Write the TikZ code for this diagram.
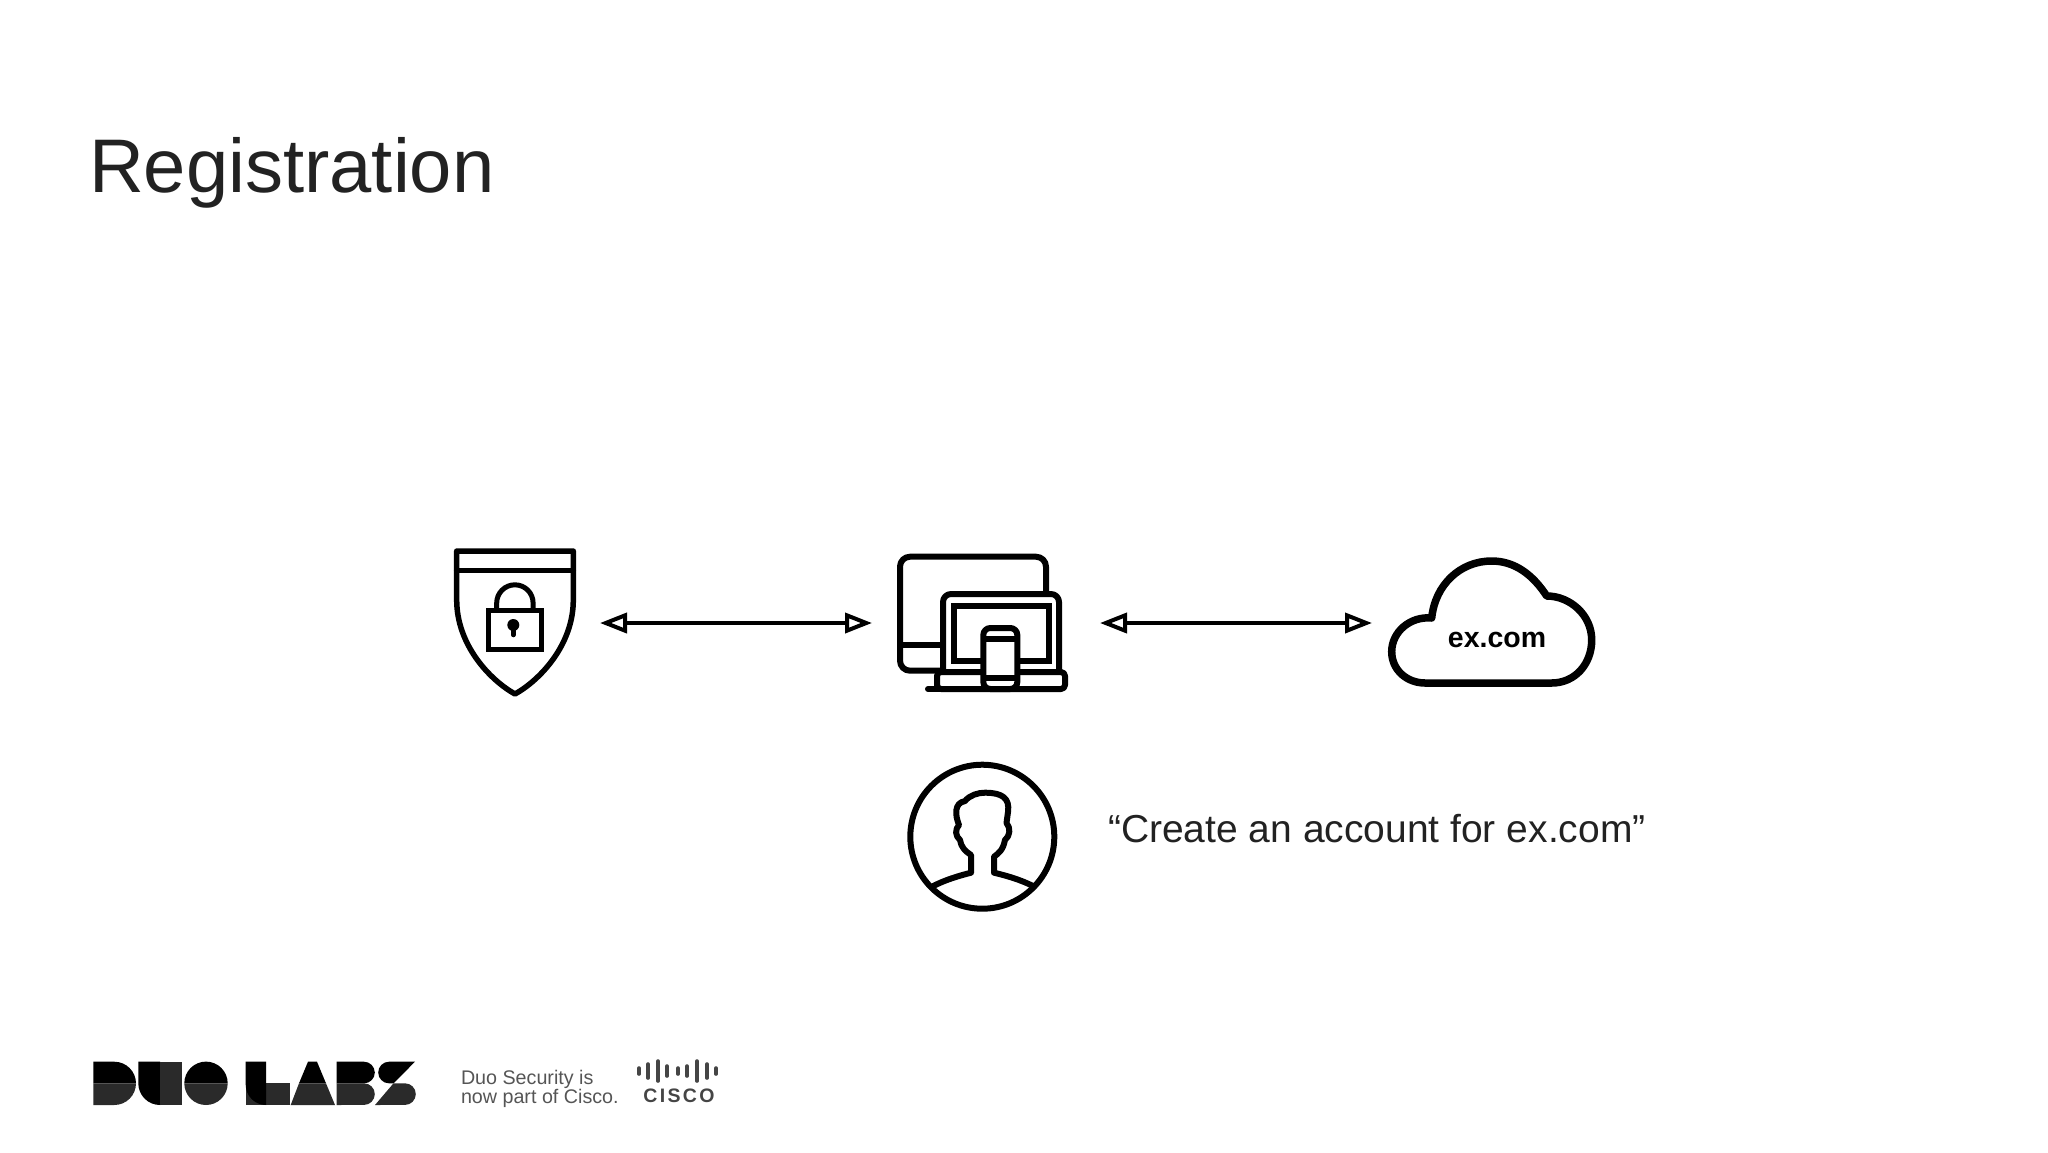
\documentclass[tikz,border=0pt]{standalone}
\usepackage{fontspec}
\setmainfont{Liberation Sans}
\newfontfamily\ciscofont[LetterSpace=12]{Liberation Sans}
\usetikzlibrary{arrows.meta}
\colorlet{ink}{black}
\definecolor{titlegray}{HTML}{222222}
\definecolor{labsgray}{HTML}{2A2A2A}
\definecolor{notegray}{HTML}{555555}
\definecolor{ciscogray}{HTML}{454545}
\def\labstop{\fill[black]}
\def\labsbot{\fill[labsgray]}
\tikzset{
	icon/.style={draw=ink,line width=6pt,line join=round,line cap=round},
	iconbox/.style={inner sep=0pt,outer sep=0pt,minimum height=40pt},
	link/.style={line width=4pt,<->},
	labl/.style={inner sep=0pt,outer sep=0pt,anchor=base west},
	ciscobar/.style={draw=ciscogray,line width=3.6pt,line cap=round},
	>={Triangle[open,length=27pt,width=20pt]},
	}
\begin{document}
\begin{tikzpicture}[x=1pt,y=-1pt]
\useasboundingbox (0,0) rectangle (2048,1152);
%TITOLO
\node[labl,text=titlegray,font=\fontsize{76}{80}\selectfont] (title) at (89,192) {Registration};
%NODI
\node[iconbox,minimum width=170pt] (shield) at (515,623) {};
\node[iconbox,minimum width=228pt] (devices) at (986,623) {};
\node[iconbox,minimum width=240pt] (cloud) at (1492,623) {};
%FRECCE
\draw[link] (shield) -- (devices);
\draw[link] (devices) -- (cloud);
%SCUDO
\draw[icon,line width=5.5pt] (456.7,551) -- (573.3,551) -- (573.3,600)
	.. controls (573.3,645) and (540,680) .. (515,694)
	.. controls (490,680) and (456.7,645) .. (456.7,600) -- cycle;
\draw[icon,line width=5.5pt] (456.7,570.7) -- (573.3,570.7);
\draw[icon,line width=5pt,line cap=butt,line join=miter] (488,610) rectangle (541.7,649);
\draw[icon,line width=5pt,line cap=butt] (496.7,610) -- (496.7,603) arc[start angle=180,end angle=0,radius=18.2pt] -- (533,610);
\fill[ink] (513.3,625) circle (6pt);
\draw[ink,line width=4.5pt,line cap=round] (513.3,625) -- (513.3,635);
%COMPUTER
\draw[icon,rounded corners=10pt] (1046,600) -- (1046,556.7) -- (900,556.7) -- (900,670.7) -- (945,670.7);
\draw[icon] (900,645) -- (940,645);
\draw[icon,fill=white,rounded corners=8pt] (943,672) -- (943,594) -- (1059,594) -- (1059,672);
\draw[icon,line join=miter] (954,605.7) rectangle (1049,660.7);
\draw[icon,fill=white,rounded corners=4pt] (937,672) -- (937,689) -- (1065,689) -- (1065,672) -- cycle;
\draw[icon] (928,689) -- (1060,689);
\draw[icon,fill=white,rounded corners=7pt] (983.3,689) -- (983.3,628) -- (1017.3,628) -- (1017.3,689) -- cycle;
\draw[icon,line cap=butt] (983.3,639) -- (1017.3,639);
\draw[icon,line cap=butt] (983.3,678) -- (1017.3,678);
%NUVOLA
\draw[icon,line width=7.5pt] (1546.7,596)
	.. controls (1533,575) and (1515,561) .. (1491.7,561)
	.. controls (1460,561) and (1435,585) .. (1431.7,618)
	.. controls (1410,616) and (1391.7,632) .. (1391.7,651.7)
	.. controls (1391.7,670) and (1407,683) .. (1425,683)
	-- (1551.7,683)
	.. controls (1575,683) and (1591.7,664) .. (1591.7,640)
	.. controls (1591.7,615) and (1570,596) .. (1546.7,596) -- cycle;
\node[inner sep=0pt,font=\fontsize{28.5}{30}\selectfont\bfseries] (excom) at (1497,640) {ex.com};
%PERSONA
\draw[icon] (982.3,836.7) circle (72pt);
\draw[icon] (933.3,886) .. controls (945,880) and (958,876) .. (971,872.7) -- (971,855)
	.. controls (965,851) and (961,847) .. (960,840)
	.. controls (955,836) and (955,829) .. (959,825)
	.. controls (955,815) and (954,803) .. (965,801)
	.. controls (970,795) and (978,792.7) .. (985,792.7)
	.. controls (1002,792.7) and (1010,798) .. (1008,812) -- (1006.5,823)
	.. controls (1011,828) and (1010,836) .. (1005,840)
	.. controls (1003,850) and (999,853) .. (994,856.7) -- (994,872.7)
	.. controls (1008,876) and (1021,880) .. (1033,886);
\node[labl,text=titlegray,font=\fontsize{39}{42}\selectfont] (quote) at (1108,842) {“Create an account for ex.com”};
%LOGO
\labstop (93.3,1061.7) -- (114.3,1061.7) arc[start angle=90,end angle=0,radius=21.7pt] -- (93.3,1083.3) -- cycle;
\labsbot (93.3,1083.3) -- (136,1083.3) arc[start angle=0,end angle=-90,radius=21.7pt] -- (93.3,1105) -- cycle;
\labstop (138.3,1061.7) -- (160,1061.7) -- (160,1105) arc[start angle=-90,end angle=-180,radius=21.7pt] -- cycle;
\labsbot (160,1061.7) rectangle (181.7,1105);
\labstop (184.3,1083.3) arc[start angle=180,end angle=0,radius=21.7pt] -- cycle;
\labsbot (184.3,1083.3) arc[start angle=180,end angle=360,radius=21.7pt] -- cycle;
\labsbot (245.7,1083.3) rectangle (290,1105);
\labstop (245.7,1061.7) -- (266,1061.7) -- (266,1105) arc[start angle=-90,end angle=-180,radius=20.3pt] -- cycle;
\labstop (308,1061.7) -- (317,1061.7) -- (326,1083.3) -- (299,1083.3) -- cycle;
\labsbot (299,1083.3) -- (326,1083.3) -- (335,1105) -- (290.7,1105) -- cycle;
\labstop (336.7,1061.7) -- (364,1061.7) arc[start angle=90,end angle=-90,radius=10.8pt] -- (336.7,1083.3) -- cycle;
\labsbot (336.7,1083.3) -- (364,1083.3) arc[start angle=90,end angle=-90,radius=10.8pt] -- (336.7,1105) -- cycle;
\labstop (389,1061.7) -- (415,1061.7) -- (393.5,1083.3) -- (389,1083.3) arc[start angle=270,end angle=90,radius=10.8pt] -- cycle;
\labsbot (393.5,1083.3) -- (405,1083.3) arc[start angle=90,end angle=-90,radius=10.8pt] -- (375,1105) -- cycle;
\node[labl,text=notegray,font=\fontsize{19.7}{20}\selectfont] (note1) at (461,1084) {Duo Security is};
\node[labl,text=notegray,font=\fontsize{19.7}{20}\selectfont] (note2) at (461,1103) {now part of Cisco.};
%CISCO
\foreach \x/\h in {639/3,648/7,658/10,667/5,678/3,687/5,697/10,707/7,716/3}
	\draw[ciscobar] (\x,1071-\h) -- (\x,1071+\h);
\node[inner sep=0pt,text=ciscogray,font=\fontsize{19.5}{20}\selectfont\ciscofont\bfseries] (cisco) at (679,1096) {CISCO};
\end{tikzpicture}
\end{document}
